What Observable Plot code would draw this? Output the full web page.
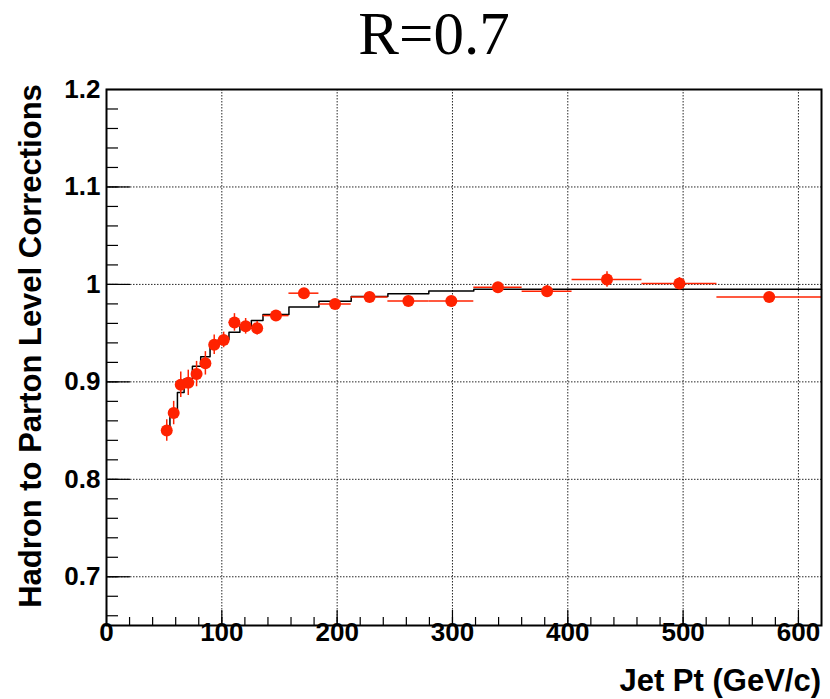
<!DOCTYPE html>
<html>
<head>
<meta charset="utf-8">
<script src="https://cdn.jsdelivr.net/npm/d3@7"></script>
<script src="https://cdn.jsdelivr.net/npm/@observablehq/plot@0.6"></script>
<style>
  body { margin: 0; background: #fff; }
  #wrap { position: relative; width: 830px; height: 699px; overflow: hidden; }
  #title { position: absolute; left: 284px; top: 4px; width: 300px; text-align: center;
           font-family: "Liberation Serif", "DejaVu Serif", serif; font-size: 61px; line-height: 60px; color: #000; }
  #xlab { position: absolute; right: 9px; top: 666px; font-family: "Liberation Sans", Arial, sans-serif;
          font-weight: bold; font-size: 31px; line-height: 30px; color: #000; white-space: nowrap; }
  #ylab { position: absolute; left: -269px; top: 331px; width: 600px; height: 30px; text-align: center;
          font-family: "Liberation Sans", Arial, sans-serif; font-weight: bold; font-size: 31px; line-height: 30px;
          color: #000; white-space: nowrap; transform: rotate(-90deg); transform-origin: 300px 15px; }
  #chart { position: absolute; left: 0; top: 0; }
</style>
</head>
<body>
<div id="wrap">
  <div id="chart"></div>
  <div id="title">R=0.7</div>
  <div id="ylab">Hadron to Parton Level Corrections</div>
  <div id="xlab">Jet Pt (GeV/c)</div>
</div>
<script>
// ---- data ----
const binLo = [49.5, 55, 61.5, 67.3, 74.5, 81.7, 89.8, 97, 106.2, 115.7, 125.6, 135.7,
               158.2, 184.2, 212.2, 244, 279.5, 318.5, 360.4, 403.7, 464.3, 529.3];
const binHi = [55, 61.5, 67.3, 74.5, 81.7, 89.8, 97, 106.2, 115.7, 125.6, 135.7, 158.2,
               184.2, 212.2, 244, 279.5, 318.5, 360.4, 403.7, 464.3, 529.3, 620];
const correction = [0.850, 0.868, 0.897, 0.899, 0.908, 0.919, 0.938, 0.943, 0.961, 0.957, 0.955, 0.968,
                    0.991, 0.980, 0.987, 0.983, 0.983, 0.997, 0.993, 1.005, 1.001, 0.987];
const corrErr = [0.011, 0.012, 0.013, 0.013, 0.013, 0.012, 0.010, 0.008, 0.009, 0.008, 0.007, 0.005,
                 0.004, 0.004, 0.004, 0.004, 0.004, 0.004, 0.006, 0.008, 0.006, 0.004];
const stepValue = [0.853, 0.8715, 0.889, 0.903, 0.916, 0.9258, 0.936, 0.9435, 0.951, 0.957, 0.963, 0.969,
                   0.9767, 0.9826, 0.9877, 0.9905, 0.9932, 0.995, 0.995, 0.995, 0.995, 0.995];
const xMajor = [0, 100, 200, 300, 400, 500, 600];
const xLabels = ["0", "100", "200", "300", "400", "500", "600"];
const yMajor = [0.7, 0.8, 0.9, 1.0, 1.1, 1.2];
const yLabels = ["0.7", "0.8", "0.9", "1", "1.1", "1.2"];
const xMinor = d3.range(20, 620, 20);
const yMinor = d3.range(0.66, 1.2, 0.02);

// ---- tables built from the arrays ----
const points = binLo.map((lo, i) => ({lo, hi: binHi[i], x: (lo + binHi[i]) / 2, y: correction[i], e: corrErr[i]}));
const steps = binLo.map((lo, i) => ({x: lo, y: stepValue[i]}));
steps.push({x: binHi[binHi.length - 1], y: stepValue[stepValue.length - 1]});

const W = 830, H = 699, mL = 106, mR = 9, mT = 89, mB = 74;
const iw = W - mL - mR, ih = H - mT - mB;
const red = "#ff2200";
const font = "Liberation Sans, Arial, sans-serif";
const grid = {stroke: "#000", strokeDasharray: "1.5,1.5", strokeOpacity: 0.85, strokeWidth: 1};

const chart = Plot.plot({
  width: W, height: H,
  marginLeft: mL, marginRight: mR, marginTop: mT, marginBottom: mB,
  style: {background: "#fff", overflow: "visible"},
  x: {domain: [0, 620], axis: null},
  y: {domain: [0.65, 1.2], axis: null},
  marks: [
    Plot.ruleX(xMajor.filter(d => d > 0), {x: d => d, ...grid}),
    Plot.ruleY(yMajor.filter(d => d < 1.2), {y: d => d, ...grid}),
    Plot.ruleY(yMinor, {y: d => d, insetRight: iw - 12, stroke: "#000", strokeWidth: 1.2}),
    Plot.ruleY(yMajor, {y: d => d, insetRight: iw - 24, stroke: "#000", strokeWidth: 1.2}),
    Plot.ruleX(xMinor, {x: d => d, insetTop: ih - 8, stroke: "#000", strokeWidth: 1.2}),
    Plot.ruleX(xMajor, {x: d => d, insetTop: ih - 15, stroke: "#000", strokeWidth: 1.2}),
    Plot.line(steps, {x: "x", y: "y", curve: "step-after", stroke: "#000", strokeWidth: 1.5}),
    Plot.ruleY(points, {y: "y", x1: "lo", x2: "hi", stroke: red, strokeWidth: 1.5}),
    Plot.ruleX(points, {x: "x", y1: d => d.y - d.e, y2: d => d.y + d.e, stroke: red, strokeWidth: 1.5}),
    Plot.dot(points, {x: "x", y: "y", r: 6, fill: red, stroke: "none"}),
    Plot.frame({stroke: "#000", strokeWidth: 2}),
    Plot.text(xMajor, {x: d => d, text: (d, i) => xLabels[i], frameAnchor: "bottom", dy: 15,
      fontSize: 26, fontWeight: "bold", fontFamily: font, fill: "#000"}),
    Plot.text(yMajor, {y: d => d, text: (d, i) => yLabels[i], frameAnchor: "left", textAnchor: "end", dx: -6,
      fontSize: 26, fontWeight: "bold", fontFamily: font, fill: "#000"})
  ]
});
document.getElementById("chart").appendChild(chart);
</script>
</body>
</html>
